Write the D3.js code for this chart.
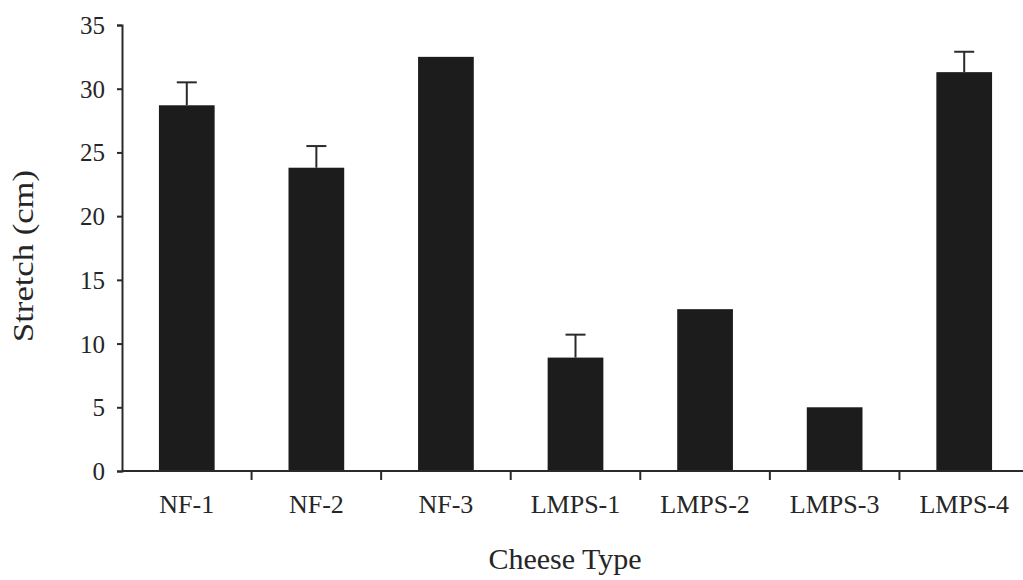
<!DOCTYPE html>
<html>
<head>
<meta charset="utf-8">
<script src="https://cdn.jsdelivr.net/npm/d3@7"></script>
<style>
    body { margin: 0; background: #fff; }
    text { font-family: "Liberation Serif", "Times New Roman", serif; fill: #262626; }
</style>
</head>
<body>
<svg id="chart" width="1023" height="580"></svg>
<script>
const categories = ["NF-1", "NF-2", "NF-3", "LMPS-1", "LMPS-2", "LMPS-3", "LMPS-4"];
const stretch = [28.7, 23.8, 32.5, 8.9, 12.7, 5.0, 31.3];
const errorBars = [1.8, 1.7, 0, 1.8, 0, 0, 1.6];
const yTicks = [0, 5, 10, 15, 20, 25, 30, 35];

const svg = d3.select("#chart");
const margin = {top: 25, left: 122, bottom: 109};
const plotHeight = 580 - margin.top - margin.bottom;

let x = d3.scaleBand()
    .domain(categories)
    .range([margin.left, 1029])
    .paddingInner(0.57)
    .paddingOuter(0.285);

let y = d3.scaleLinear()
    .domain([0, 35])
    .range([margin.top + plotHeight, margin.top]);

// bars
svg.append("g")
    .selectAll("rect")
    .data(categories)
    .join("rect")
    .attr("x", d => x(d))
    .attr("y", (d, i) => y(stretch[i]))
    .attr("width", x.bandwidth())
    .attr("height", (d, i) => y(0) - y(stretch[i]))
    .style("fill", "#1c1c1c");

// error bars (upper only)
let errG = svg.append("g")
    .style("stroke", "#2a2a2a")
    .style("stroke-width", 2.5);
categories.forEach((c, i) => {
    if (!errorBars[i]) return;
    let cx = x(c) + x.bandwidth() / 2;
    errG.append("line")
        .attr("x1", cx).attr("x2", cx)
        .attr("y1", y(stretch[i])).attr("y2", y(stretch[i] + errorBars[i]));
    errG.append("line")
        .attr("x1", cx - 10).attr("x2", cx + 10)
        .attr("y1", y(stretch[i] + errorBars[i])).attr("y2", y(stretch[i] + errorBars[i]));
});

// y axis
let yAxis = svg.append("g")
    .attr("transform", "translate(" + margin.left + ",0)")
    .call(d3.axisLeft(y).tickValues(yTicks).tickSize(5).tickPadding(12));
yAxis.selectAll("text").style("font-size", "25px").attr("dy", "0.34em");

// x axis, ticks between categories
let xBounds = d3.scaleLinear().domain([0, categories.length]).range(x.range());
let xAxis = svg.append("g")
    .attr("transform", "translate(0," + y(0) + ")");
xAxis.append("line")
    .attr("x1", margin.left).attr("x2", 1029)
    .attr("y1", 0).attr("y2", 0);
xAxis.selectAll(".tick-mark")
    .data(d3.range(1, categories.length))
    .join("line")
    .attr("class", "tick-mark")
    .attr("x1", d => xBounds(d)).attr("x2", d => xBounds(d))
    .attr("y1", 0).attr("y2", 9);
xAxis.selectAll(".cat")
    .data(categories)
    .join("text")
    .attr("class", "cat")
    .attr("x", d => x(d) + x.bandwidth() / 2)
    .attr("y", 42)
    .attr("text-anchor", "middle")
    .style("font-size", "26px")
    .text(d => d);

svg.selectAll(".domain, .tick line, g line")
    .style("stroke", "#2a2a2a")
    .style("stroke-width", 2);

// axis titles
svg.append("text")
    .attr("transform", "translate(33,256) rotate(-90)")
    .attr("text-anchor", "middle")
    .attr("textLength", 172)
    .attr("lengthAdjust", "spacingAndGlyphs")
    .style("font-size", "30px")
    .text("Stretch (cm)");

svg.append("text")
    .attr("x", 565)
    .attr("y", 569)
    .attr("text-anchor", "middle")
    .style("font-size", "30px")
    .text("Cheese Type");
</script>
</body>
</html>
